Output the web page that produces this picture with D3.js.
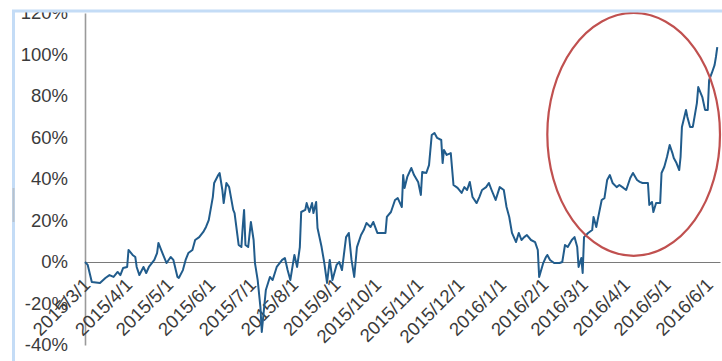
<!DOCTYPE html>
<html>
<head>
<meta charset="utf-8">
<script src="https://cdn.jsdelivr.net/npm/d3@7/dist/d3.min.js"></script>
<style>
  html, body { margin: 0; padding: 0; background: #fff; }
  svg { display: block; }
  text { font-family: "Liberation Sans", Arial, sans-serif; fill: #3b3b3b; }
</style>
</head>
<body>
<svg id="chart" width="722" height="361"></svg>
<script>
// Cumulative return series (%), by trading date
const dates = [
  "2015-03-01","2015-03-03","2015-03-06","2015-03-12","2015-03-16","2015-03-19","2015-03-22","2015-03-25","2015-03-27","2015-03-29",
  "2015-04-01","2015-04-02","2015-04-05","2015-04-07","2015-04-08","2015-04-10","2015-04-13","2015-04-15","2015-04-17","2015-04-21",
  "2015-04-23","2015-04-24","2015-04-26","2015-04-29","2015-04-30","2015-05-03","2015-05-05","2015-05-08","2015-05-09","2015-05-12",
  "2015-05-14","2015-05-16","2015-05-19","2015-05-21","2015-05-24","2015-05-27","2015-05-29","2015-05-31","2015-06-03","2015-06-04",
  "2015-06-07","2015-06-08","2015-06-10","2015-06-11","2015-06-13","2015-06-15","2015-06-18","2015-06-19","2015-06-22","2015-06-24",
  "2015-06-25","2015-06-26","2015-06-27","2015-06-29","2015-07-01","2015-07-03","2015-07-04","2015-07-06","2015-07-08","2015-07-09",
  "2015-07-12","2015-07-15","2015-07-17","2015-07-20","2015-07-24","2015-07-26","2015-07-28","2015-07-30","2015-08-01","2015-08-02",
  "2015-08-04","2015-08-06","2015-08-07","2015-08-10","2015-08-11","2015-08-13","2015-08-15","2015-08-16","2015-08-18","2015-08-19",
  "2015-08-22","2015-08-24","2015-08-26","2015-08-28","2015-08-30","2015-09-02","2015-09-04","2015-09-06","2015-09-09","2015-09-11",
  "2015-09-13","2015-09-15","2015-09-17","2015-09-20","2015-09-22","2015-09-24","2015-09-27","2015-09-29","2015-10-02","2015-10-08",
  "2015-10-09","2015-10-12","2015-10-15","2015-10-17","2015-10-20","2015-10-21","2015-10-22","2015-10-24","2015-10-27","2015-10-29",
  "2015-11-01","2015-11-03","2015-11-04","2015-11-07","2015-11-09","2015-11-11","2015-11-13","2015-11-15","2015-11-18","2015-11-19",
  "2015-11-20","2015-11-22","2015-11-25","2015-11-27","2015-11-30","2015-12-03","2015-12-05","2015-12-07","2015-12-09","2015-12-11",
  "2015-12-14","2015-12-16","2015-12-18","2015-12-21","2015-12-23","2015-12-25","2015-12-28","2015-12-31","2016-01-03","2016-01-05",
  "2016-01-07","2016-01-09","2016-01-12","2016-01-14","2016-01-16","2016-01-18","2016-01-20","2016-01-23","2016-01-26","2016-01-28",
  "2016-01-29","2016-02-01","2016-02-03","2016-02-04","2016-02-06","2016-02-09","2016-02-13","2016-02-15","2016-02-17","2016-02-19",
  "2016-02-22","2016-02-24","2016-02-26","2016-02-27","2016-02-29","2016-03-01","2016-03-02","2016-03-05","2016-03-08","2016-03-09",
  "2016-03-11","2016-03-12","2016-03-15","2016-03-17","2016-03-19","2016-03-21","2016-03-23","2016-03-26","2016-03-28","2016-03-31",
  "2016-04-02","2016-04-05","2016-04-07","2016-04-10","2016-04-12","2016-04-14","2016-04-18","2016-04-19","2016-04-21","2016-04-22",
  "2016-04-24","2016-04-27","2016-04-28","2016-04-30","2016-05-02","2016-05-04","2016-05-06","2016-05-07","2016-05-09","2016-05-11",
  "2016-05-12","2016-05-13","2016-05-16","2016-05-17","2016-05-19","2016-05-21","2016-05-24","2016-05-25","2016-05-28","2016-05-30",
  "2016-06-01","2016-06-02","2016-06-04","2016-06-06","2016-06-07","2016-06-08"
];
const returns = [
  0.0,-1.4,-9.6,-10.1,-7.7,-6.3,-7.2,-4.8,-6.3,-2.9,
  -2.4,5.8,3.4,2.4,-2.4,-6.3,-2.4,-5.3,-2.4,1.0,
  4.3,9.2,5.8,1.0,-0.5,2.4,1.0,-7.2,-7.7,-3.9,
  1.0,4.3,5.8,10.6,12.0,14.5,16.9,20.2,31.3,38.1,
  41.9,42.9,34.7,28.4,38.1,36.1,25.1,23.6,8.2,7.2,
  16.9,25.1,8.2,7.2,19.3,10.6,-0.5,-8.7,-21.7,-33.7,
  -13.5,-7.2,-8.7,-2.4,1.0,1.9,-3.9,-8.7,-0.5,3.4,
  -2.4,7.2,24.1,25.1,28.4,24.1,28.4,23.6,28.9,16.4,
  7.2,-0.5,-10.1,1.0,-8.7,-1.4,0.0,-3.9,12.0,14.0,
  1.0,-7.2,7.2,13.0,15.4,18.8,16.9,19.3,14.0,14.0,
  21.7,24.1,29.9,30.8,26.5,41.9,35.7,41.0,45.3,41.9,
  38.6,32.3,43.4,42.9,46.7,61.2,62.2,59.8,58.8,47.7,
  54.0,51.6,52.5,37.1,35.7,33.3,36.1,34.7,38.6,31.3,
  28.4,31.3,34.7,36.1,38.1,34.7,29.9,36.1,34.7,26.5,
  21.7,14.0,9.6,14.0,10.6,12.0,13.0,10.6,9.6,5.8,
  -7.2,-0.5,2.4,3.4,1.0,-0.5,-0.5,0.0,8.2,7.2,
  10.6,12.0,7.2,-2.4,1.9,-5.3,12.0,14.0,15.4,21.7,
  16.9,20.2,29.9,30.8,39.5,41.9,38.1,36.1,37.1,35.7,
  34.7,40.5,42.9,39.5,38.6,38.1,38.1,27.5,28.9,24.1,
  28.4,28.4,42.9,45.8,50.6,56.4,52.5,50.1,47.7,44.3,
  50.6,65.1,73.3,69.9,65.1,65.1,76.6,84.3,79.5,73.3,
  73.3,87.7,91.1,94.9,98.8,103.6
];
// Axis tick definitions
const xTickDates = [
  "2015-03-01","2015-04-01","2015-05-01","2015-06-01","2015-07-01","2015-08-01","2015-09-01","2015-10-01",
  "2015-11-01","2015-12-01","2016-01-01","2016-02-01","2016-03-01","2016-04-01","2016-05-01","2016-06-01"
];
const xTickLabels = [
  "2015/3/1","2015/4/1","2015/5/1","2015/6/1","2015/7/1","2015/8/1","2015/9/1","2015/10/1",
  "2015/11/1","2015/12/1","2016/1/1","2016/2/1","2016/3/1","2016/4/1","2016/5/1","2016/6/1"
];
const yTickValues = [-40, -20, 0, 20, 40, 60, 80, 100, 120];
// Highlighted period (recent rally), as date and value bounds of the ellipse
const highlightStart = "2016-02-04";
const highlightEnd = "2016-06-10";
const highlightLow = 3;
const highlightHigh = 120;

const parse = d3.timeParse("%Y-%m-%d");
const series = dates.map((d, i) => ({ date: parse(d), value: returns[i] }));

const svg = d3.select("#chart");
const W = 722, H = 361;
const frameLeft = 15, frameTop = 12;
const labelFont = "18.5px";

const x = d3.scaleTime()
  .domain([parse("2015-03-01"), parse("2016-06-10")])
  .range([85, 720]);
const y = d3.scaleLinear()
  .domain([-40, 120])
  .range([345, 13]);

svg.append("defs").append("clipPath").attr("id", "frame")
  .append("rect").attr("x", frameLeft).attr("y", frameTop)
  .attr("width", W - frameLeft).attr("height", H - frameTop);

const g = svg.append("g").attr("clip-path", "url(#frame)");

// Y axis: line plus percentage labels
const yAxis = g.append("g").attr("transform", `translate(${x.range()[0]},0)`)
  .call(d3.axisLeft(y).tickValues(yTickValues).tickSize(0).tickPadding(17)
    .tickFormat(d => d + "%"));
yAxis.select(".domain").attr("stroke", "#9a9a9a").attr("stroke-width", 1.6);
yAxis.selectAll("text").style("font-size", labelFont).attr("fill", "#3b3b3b")
  .style("font-family", "'Liberation Sans', Arial, sans-serif");

// X axis along the zero line
const xAxis = g.append("g").attr("transform", `translate(0,${y(0)})`)
  .call(d3.axisBottom(x).tickValues(xTickDates.map(parse)).tickSize(0)
    .tickFormat((d, i) => xTickLabels[i]));
xAxis.select(".domain").attr("stroke", "#7a7a7a").attr("stroke-width", 1.2);
xAxis.selectAll("text")
  .style("font-size", labelFont).attr("fill", "#3b3b3b")
  .style("font-family", "'Liberation Sans', Arial, sans-serif")
  .attr("text-anchor", "end")
  .attr("dy", null).attr("y", 0)
  .attr("transform", "translate(6,24) rotate(-45)");

// Return line
const line = d3.line().x(d => x(d.date)).y(d => y(d.value));
g.append("path").datum(series)
  .attr("d", line)
  .attr("fill", "none")
  .attr("stroke", "#215c8c")
  .attr("stroke-width", 2)
  .attr("stroke-linejoin", "round");

// Ellipse marking the recent rally
const ex0 = x(parse(highlightStart)), ex1 = x(parse(highlightEnd));
const ey0 = y(highlightHigh), ey1 = y(highlightLow);
g.append("ellipse")
  .attr("cx", (ex0 + ex1) / 2).attr("cy", (ey0 + ey1) / 2)
  .attr("rx", (ex1 - ex0) / 2).attr("ry", (ey1 - ey0) / 2)
  .attr("fill", "none").attr("stroke", "#c0504f").attr("stroke-width", 2.2);

// Frame border
svg.append("line").attr("x1", frameLeft - 3).attr("x2", W).attr("y1", frameTop - 1).attr("y2", frameTop - 1)
  .attr("stroke", "#c4dcf6").attr("stroke-width", 3);
svg.append("line").attr("x1", frameLeft - 1.5).attr("x2", frameLeft - 1.5).attr("y1", frameTop - 2).attr("y2", H)
  .attr("stroke", "#c4dcf6").attr("stroke-width", 3);
svg.append("line").attr("x1", frameLeft - 1.5).attr("x2", frameLeft - 1.5).attr("y1", 188).attr("y2", 222)
  .attr("stroke", "#b9c2cc").attr("stroke-width", 2);
</script>
</body>
</html>
